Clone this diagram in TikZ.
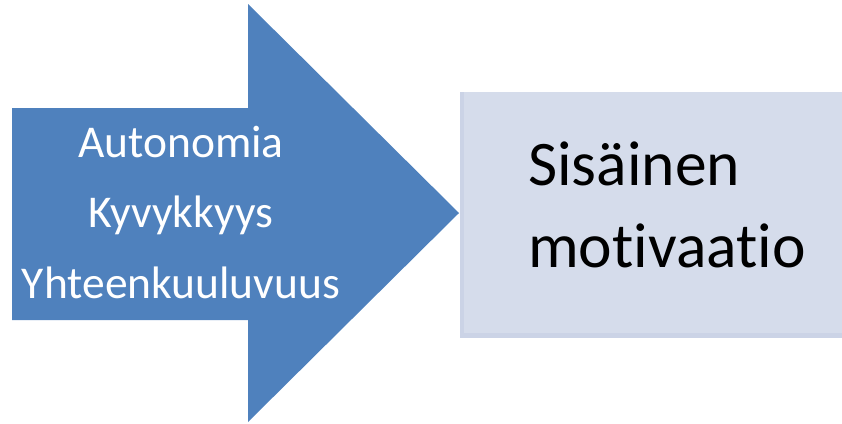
\documentclass[tikz,border=0pt]{standalone}
\usepackage{fontspec}
\setmainfont[Ligatures={NoCommon}]{Carlito}
\definecolor{arrowblue}{HTML}{4F81BD}
\definecolor{boxfill}{HTML}{D5DCEB}
\definecolor{boxedge}{HTML}{CBD3E6}

\begin{document}
\begin{tikzpicture}
[
	x=1pt, y=-1pt,
	lefttext/.style={anchor=base,inner sep=0pt,text=white,font=\fontsize{45.5}{52}\selectfont},
	righttext/.style={anchor=base west,inner sep=0pt,text=black,font=\fontsize{63.5}{74}\selectfont}
]

	\useasboundingbox (0,0) rectangle (842,423);

	% block arrow
	\fill[arrowblue] (12,108) -- (248,108) -- (248,4) -- (459,213)
		-- (248,422) -- (248,320) -- (12,320) -- cycle;

	% box
	\fill[boxedge] (460,92) rectangle (842,338);
	\fill[boxfill] (464,92) rectangle (842,333);

	\node[lefttext] (auto) at (181,157) {Autonomia};
	\node[lefttext] (kyv) at (181,227) {Kyvykkyys};
	\node[lefttext] (yht) at (181,298) {Yhteenkuuluvuus};

	\node[righttext] (sis) at (528,185) {Sisäinen};
	\node[righttext] (mot) at (528,267) {motivaatio};

\end{tikzpicture}
\end{document}
